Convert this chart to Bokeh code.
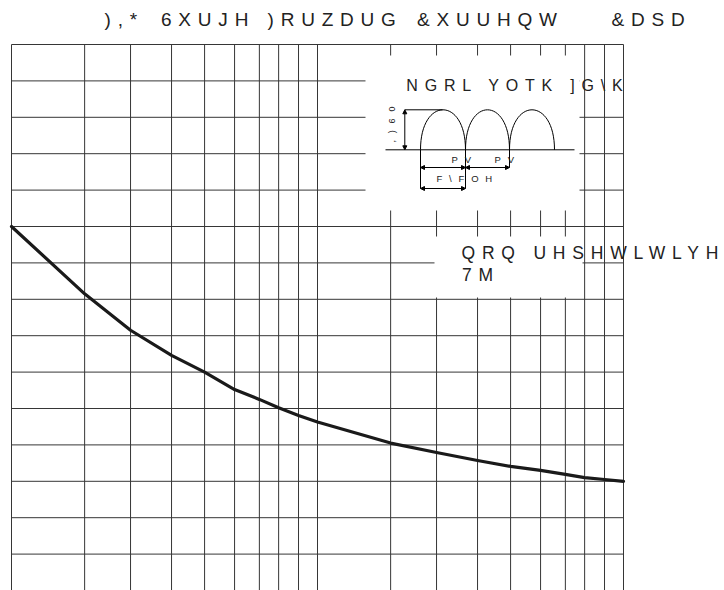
import math
from bokeh.plotting import figure
from bokeh.models import Label, Arrow, NormalHead
from bokeh.embed import file_html
from bokeh.resources import INLINE

# ---------------- data ----------------
cycles = [1, 2, 3, 4, 5, 6, 7, 8, 9, 10, 20, 30, 40, 50, 60, 70, 80, 90, 100]
peak_current = [100, 81.5, 71.5, 64.6, 60.0, 55.2, 52.5, 50.2, 48.1, 46.3,
                40.5, 37.9, 35.7, 34.1, 33.0, 31.9, 31.0, 30.5, 30.0]
# position of the 1..9 rulings inside one decade, as drawn on the chart paper
decade_rulings = [0.0, 0.239, 0.389, 0.523, 0.631, 0.729, 0.810, 0.873, 0.938]
y_rulings = list(range(0, 151, 10))

title_words = ["),*", "6XUJH", ")RUZDUG", "&XUUHQW", "&DSD"]
wave_text = "NGRL YOTK ]G\\K"
mode_text = "QRQ UHSHWLWLYH"
temp_text = "7M"
ifsm_text = ",)60"
ms_text = "PV"
cycle_text = "F\\FOH"


def cyc_pos(n):
    d = int(math.floor(math.log10(n) + 1e-9))
    m = int(round(n / 10 ** d))
    return d + decade_rulings[m - 1]


x_ticks = [d + f for d in (0, 1) for f in decade_rulings] + [2.0]
curve_x = [cyc_pos(c) for c in cycles]
X_MIN, X_MAX = 0.0, 2.0
Y_MIN, Y_MAX = 0.0, 150.0

# ---------------- layout helpers (page px -> data) ----------------
def X(px):
    return (px - 11) / 306.0


def Y(py):
    return (590 - py) * 150.0 / 546.0


INK = "#222222"
GRID = "#363636"
FONT = "Liberation Sans"

p = figure(width=724, height=590, x_range=(X(0), X(724)), y_range=(Y(590), Y(0)),
           x_axis_location=None, y_axis_location=None,
           toolbar_location=None, output_backend="svg",
           min_border_left=0, min_border_right=0,
           min_border_top=0, min_border_bottom=0,
           styles={"letter-spacing": "6.8px"})
p.grid.visible = False
p.outline_line_color = None
p.background_fill_color = "white"

# horizontal rulings
p.segment(x0=[X_MIN] * len(y_rulings), y0=y_rulings,
          x1=[X_MAX] * len(y_rulings), y1=y_rulings,
          line_color=GRID, line_width=1)
# the wave title masks its ruling on the right
p.quad(left=[X(579)], right=[X(623)], top=[Y(75)], bottom=[Y(87)],
       fill_color="white", line_color=None)
# vertical rulings
p.segment(x0=x_ticks, y0=[Y_MIN] * len(x_ticks),
          x1=x_ticks, y1=[Y_MAX] * len(x_ticks),
          line_color=GRID, line_width=1)

# white panels for the inset drawing and the note
p.quad(left=[X(365), X(434)], right=[X(579), X(582)],
       top=[Y(55), Y(236)], bottom=[Y(210), Y(297)],
       fill_color="white", line_color=None)

# curve
p.line(curve_x, peak_current, line_color="#1a1a1a", line_width=3.2,
       line_join="round", line_cap="round")

# inset: half sine wave sketch
base = 149.3
top = 109.3
p.segment(x0=[X(385), X(404.3), X(420), X(465), X(509)],
          y0=[Y(base), Y(top), Y(base), Y(base), Y(base)],
          x1=[X(574), X(442), X(420), X(465), X(509)],
          y1=[Y(base), Y(top), Y(188), Y(188), Y(167)],
          line_color="black", line_width=1)
starts = [420, 465, 509]
ends = [465, 509, 554]
ctrl = base - (base - top) * 4.0 / 3.0
p.bezier(x0=[X(a) for a in starts], y0=[Y(base)] * 3,
         x1=[X(b) for b in ends], y1=[Y(base)] * 3,
         cx0=[X(a) for a in starts], cy0=[Y(ctrl)] * 3,
         cx1=[X(b) for b in ends], cy1=[Y(ctrl)] * 3,
         line_color="black", line_width=1)

for (xs, ys, xe, ye) in [(404.3, top, 404.3, base), (420, 167, 465, 167),
                         (465, 167, 509, 167), (420, 188, 465, 188)]:
    p.add_layout(Arrow(start=NormalHead(size=4, fill_color="black", line_color="black"),
                       end=NormalHead(size=4, fill_color="black", line_color="black"),
                       x_start=X(xs), y_start=Y(ys), x_end=X(xe), y_end=Y(ye),
                       line_color="black", line_width=1))


def label(txt, px, py, size, angle=0.0):
    # px, py: left end of the text baseline in page pixels
    shift = 0.3 * size + 1.0
    if angle:
        px -= shift
    else:
        py -= shift
    p.add_layout(Label(x=X(px), y=Y(py), text=txt, text_font=FONT,
                       text_font_size=f"{size}px", text_color=INK,
                       text_align="left", text_baseline="alphabetic",
                       angle=angle))


title_word_x = [104.0, 160.5, 267.0, 416.5, 611.0]
for word, wx in zip(title_words, title_word_x):
    label(word, wx, 26.0, 19)

label(wave_text, 405.8, 90.7, 16)
label(mode_text, 461.0, 258.3, 17.5)
label(temp_text, 461.5, 281.0, 17.5)
label(ms_text, 451.0, 162.5, 9.5)
label(ms_text, 494.0, 162.5, 9.5)
label(cycle_text, 436.0, 182.3, 9.5)
label(ifsm_text, 395.0, 142.0, 9, angle=math.pi / 2)

open("out.html", "w").write(file_html(p, INLINE))
